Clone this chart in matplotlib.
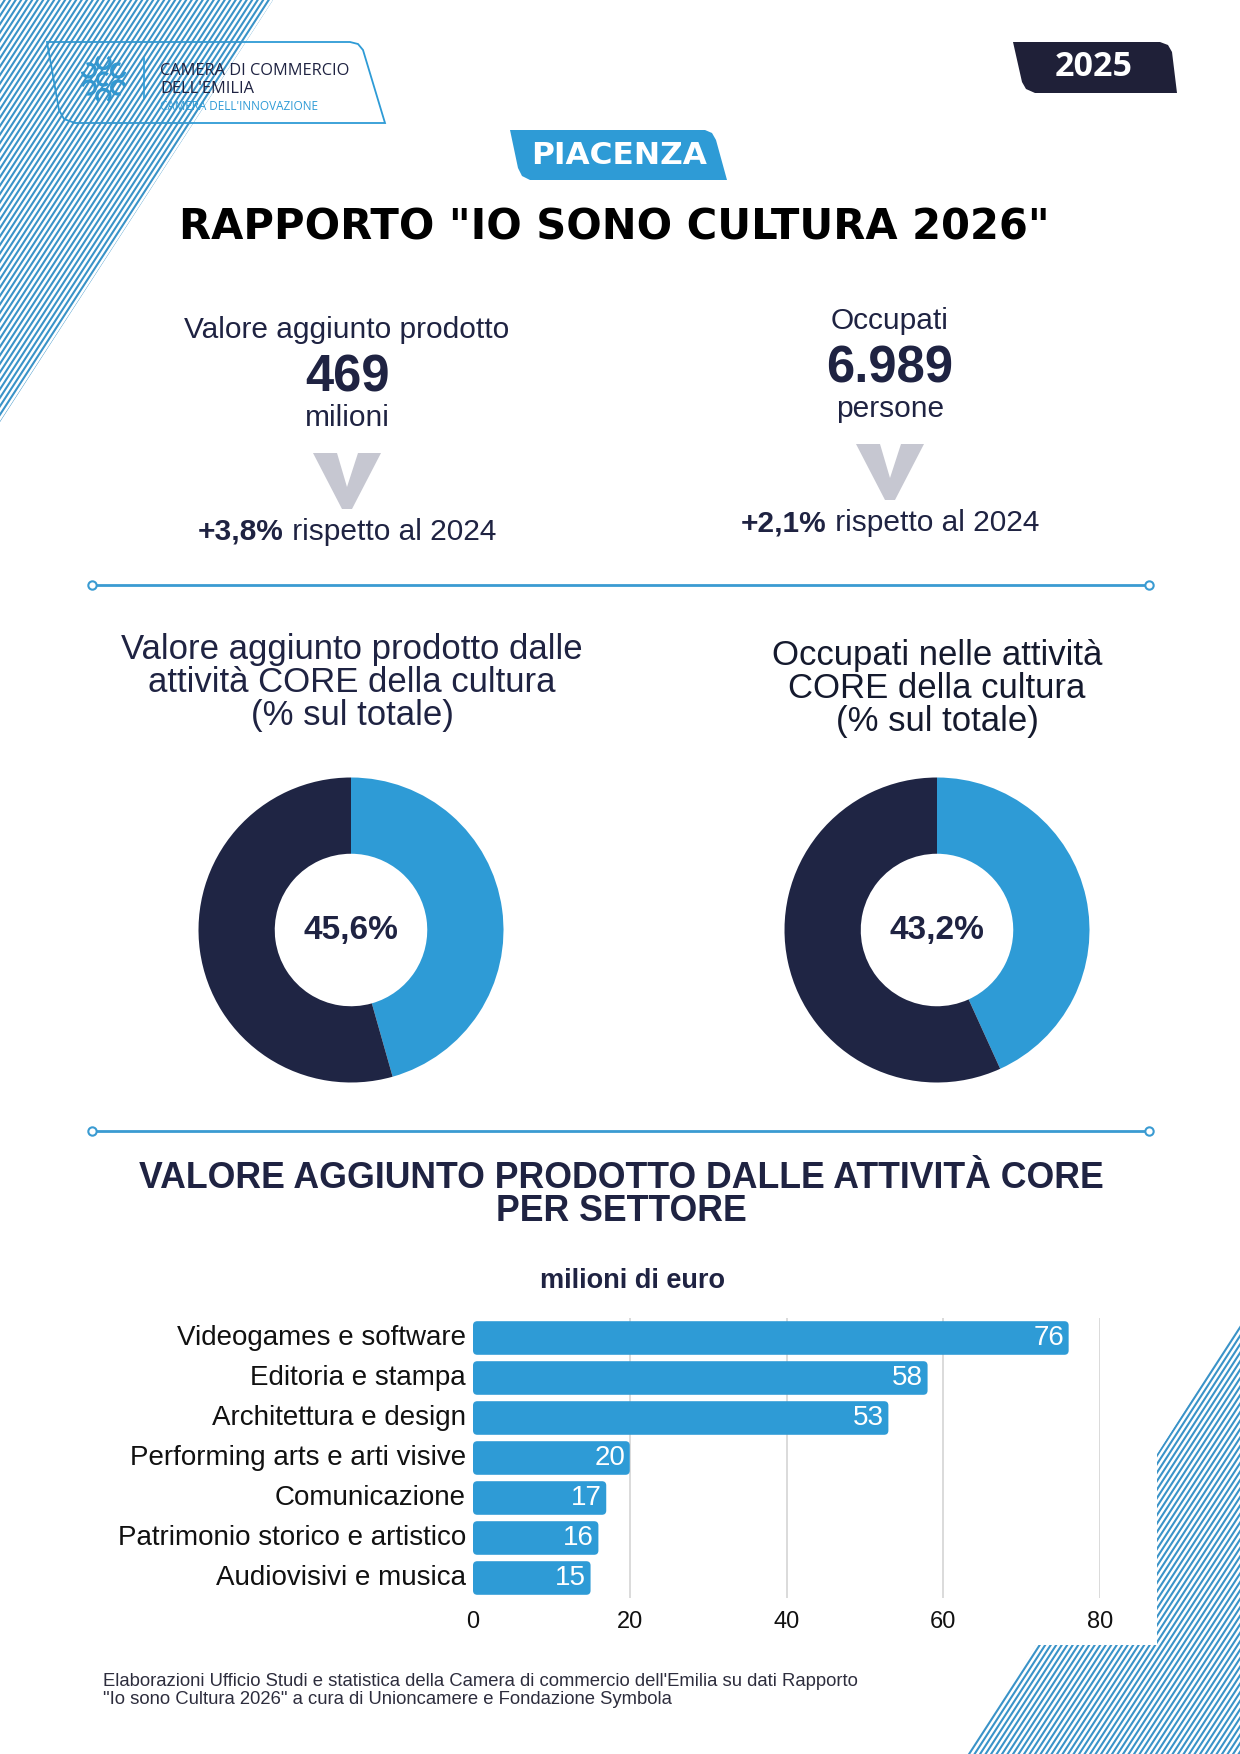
import numpy as np
import matplotlib
matplotlib.use("Agg")
import matplotlib.pyplot as plt
from matplotlib.patches import Polygon, Arc, FancyBboxPatch
from matplotlib.collections import LineCollection

plt.rcParams['font.family'] = ['Liberation Sans', 'DejaVu Sans']

# ---- data ----
province = "PIACENZA"
year_badge = "2025"
title = 'RAPPORTO "IO SONO CULTURA 2026"'

kpi_labels = ["Valore aggiunto prodotto", "Occupati"]
kpi_values = ["469", "6.989"]
kpi_units = ["milioni", "persone"]
kpi_changes = ["+3,8%", "+2,1%"]
kpi_ref = " rispetto al 2024"

donut_titles = ["Valore aggiunto prodotto dalle\nattività CORE della cultura\n(% sul totale)",
                "Occupati nelle attività\nCORE della cultura\n(% sul totale)"]
donut_shares = [45.6, 43.2]

bar_title = "VALORE AGGIUNTO PRODOTTO DALLE ATTIVITÀ CORE\nPER SETTORE"
bar_unit = "milioni di euro"
sectors = ["Videogames e software", "Editoria e stampa", "Architettura e design",
           "Performing arts e arti visive", "Comunicazione",
           "Patrimonio storico e artistico", "Audiovisivi e musica"]
sector_values = [76, 58, 53, 20, 17, 16, 15]
x_ticks = [0, 20, 40, 60, 80]

footnote = ("Elaborazioni Ufficio Studi e statistica della Camera di commercio dell'Emilia su dati Rapporto\n"
            "\"Io sono Cultura 2026\" a cura di Unioncamere e Fondazione Symbola")

NAVY = "#1f2342"
BLUE = "#2e9bd6"
DARK = "#1f2544"
HATCH = "#3a93c8"
GREY = "#c6c7d1"

W, H = 1240, 1754
fig = plt.figure(figsize=(W / 100, H / 100), dpi=100)
bg = fig.add_axes([0, 0, 1, 1])
bg.set_xlim(0, W)
bg.set_ylim(H, 0)
bg.axis("off")


def hatch(poly):
    clip = Polygon(poly, closed=True, fc="none", ec="none")
    bg.add_patch(clip)
    segs = []
    for c in np.arange(-100, 2700, 5.5):
        segs.append([(c + 273 * 0.2, -84), (c - 273 * 4.4, 1854)])
    lc = LineCollection(segs, colors=HATCH, linewidths=1.5)
    bg.add_collection(lc)
    lc.set_clip_path(clip)


# striped corners
hatch([(0, 0), (273, 0), (0, 422)])
hatch([(1240, 1323), (1157, 1454), (1157, 1645), (1036, 1645), (967, 1754), (1240, 1754)])

# logo box
bg.add_patch(Polygon([(47, 42), (350, 42), (358, 44), (363, 50), (385, 123), (75, 123),
                      (64, 119), (59, 110)], closed=True, fc="white", ec=BLUE, lw=1.3))
for ang in [90, 30, -30, -90, -150, 150]:
    cx = 103.5 + 17 * np.cos(np.radians(ang))
    cy = 79 - 17 * np.sin(np.radians(ang))
    bg.add_patch(Arc((cx, cy), 13, 13, angle=-ang, theta1=40, theta2=320, color=BLUE, lw=2.4))
bg.add_patch(Arc((103.5, 79), 12, 12, theta1=45, theta2=315, color=BLUE, lw=2.4))
bg.plot([144, 144], [58, 98], color=BLUE, lw=1.2)
bg.text(160, 71, "CAMERA DI COMMERCIO", fontsize=11.8, family="Open Sans", color=NAVY, va="center")
bg.text(160, 89, "DELL'EMILIA", fontsize=11.8, family="Open Sans", color=NAVY, va="center")
bg.text(160, 107, "CAMERA DELL'INNOVAZIONE", fontsize=8.5, family="Open Sans", color=BLUE, va="center")

# year badge
bg.add_patch(Polygon([(1013, 42), (1160, 42), (1168, 45), (1172, 52), (1177, 93), (1035, 93),
                      (1026, 89), (1022, 82)], closed=True, fc="#1f2038", ec="none"))
bg.text(1094, 67, year_badge, fontsize=24.5, family="Open Sans", fontweight="bold", color="white",
        ha="center", va="center")

# province badge
bg.add_patch(Polygon([(510, 130), (705, 130), (712, 133), (716, 140), (727, 180), (530, 180),
                      (522, 176), (518, 168)], closed=True, fc=BLUE, ec="none"))
bg.text(619, 155, province, fontsize=22.5, family="DejaVu Sans", fontweight="bold", color="white",
        ha="center", va="center")

bg.text(614, 228, title, fontsize=30, family="DejaVu Sans", fontweight="bold", color="black",
        ha="center", va="center")

renderer = fig.canvas.get_renderer()


def two_part(x, y, first, rest, size):
    t1 = bg.text(0, y, first, fontsize=size, fontweight="bold", color=NAVY, va="center")
    t2 = bg.text(0, y, rest, fontsize=size, color=NAVY, va="center")
    w1 = t1.get_window_extent(renderer).width
    w2 = t2.get_window_extent(renderer).width
    start = x - (w1 + w2) / 2
    t1.set_x(start)
    t2.set_x(start + w1)


# KPI blocks
kpi_x = [347, 890]
kpi_y0 = [327, 318]
for i in range(2):
    x, y0 = kpi_x[i], kpi_y0[i]
    bg.text(x, y0 + 3, kpi_labels[i], fontsize=21.5, color=NAVY, ha="center", va="center")
    bg.text(x, y0 + 51, kpi_values[i], fontsize=36.5, fontweight="bold", color=NAVY,
            ha="center", va="center")
    bg.text(x, y0 + 91, kpi_units[i], fontsize=21.5, color=NAVY, ha="center", va="center")
    vt = y0 + 126
    bg.add_patch(Polygon([(x - 34, vt), (x - 10, vt), (x, vt + 34), (x + 11, vt), (x + 34, vt),
                          (x + 5, vt + 56), (x - 5, vt + 56)], closed=True, fc=GREY, ec="none"))
    two_part(x, y0 + 205, kpi_changes[i], kpi_ref, 21.5)

# dividers
for yd in [585, 1131]:
    bg.plot([92, 1149], [yd, yd], color="#3a9bd2", lw=2, marker="o", ms=6,
            mfc="white", mec="#3a9bd2", mew=1.5)

# donut titles
bg.text(352, 683, donut_titles[0], fontsize=25, color=NAVY, ha="center", va="center",
        linespacing=1.0)
bg.text(937, 688, donut_titles[1], fontsize=25, color="#151a2e", ha="center", va="center",
        linespacing=1.0)

# donuts
centers = [351, 937]
R = 152.5
for i in range(2):
    cx, cy = centers[i], 930
    ax = fig.add_axes([(cx - R) / W, 1 - (cy + R) / H, 2 * R / W, 2 * R / H])
    share = donut_shares[i]
    ax.pie([share, 100 - share], colors=[BLUE, DARK], startangle=90, counterclock=False,
           radius=1, wedgeprops=dict(width=0.5, linewidth=0))
    ax.set_xlim(-1, 1)
    ax.set_ylim(-1, 1)
    ax.text(0, 0, f"{share:.1f}%".replace(".", ","), fontsize=24, fontweight="bold",
            color=NAVY, ha="center", va="center")

# bar section
bg.text(621, 1195, bar_title, fontsize=25.7, fontweight="bold", color=NAVY, ha="center",
        va="center", linespacing=0.92)
bg.text(633, 1281, bar_unit, fontsize=19.5, fontweight="bold", color=NAVY, ha="center", va="center")

bx = fig.add_axes([473 / W, 1 - 1598 / H, 627 / W, 280 / H])
bx.set_facecolor("none")
ypos = np.arange(len(sectors))
bars = bx.barh(ypos, sector_values, height=0.84, color=BLUE, zorder=3)
asp = (1 / 40) / (1 / (627 / 80))
for b in bars:
    b.set_visible(False)
    bx.add_patch(FancyBboxPatch((b.get_x(), b.get_y()), b.get_width(), b.get_height(),
                                boxstyle="round,pad=0,rounding_size=0.55", mutation_aspect=asp,
                                fc=BLUE, ec="none", zorder=3))
for yy, v in zip(ypos, sector_values):
    bx.text(v - 0.6, yy, str(v), color="white", fontsize=20, ha="right", va="center", zorder=4)
bx.set_xlim(0, 80)
bx.set_ylim(len(sectors) - 0.5, -0.5)
bx.set_xticks(x_ticks)
bx.set_yticks(ypos)
bx.set_yticklabels(sectors, fontsize=20, color="#111111", va="center")
bx.tick_params(axis="x", labelsize=17, length=0, pad=9, labelcolor="#111111")
bx.tick_params(axis="y", length=0, pad=5)
for s in bx.spines.values():
    s.set_visible(False)
for t in x_ticks[1:]:
    bx.axvline(t, color="#d4d4d4", lw=1.2, zorder=1)

bg.text(103, 1673, footnote, fontsize=13.3, color="#2d2d3d", ha="left", va="top", linespacing=1.05)

fig.savefig("out.png", dpi=100)
